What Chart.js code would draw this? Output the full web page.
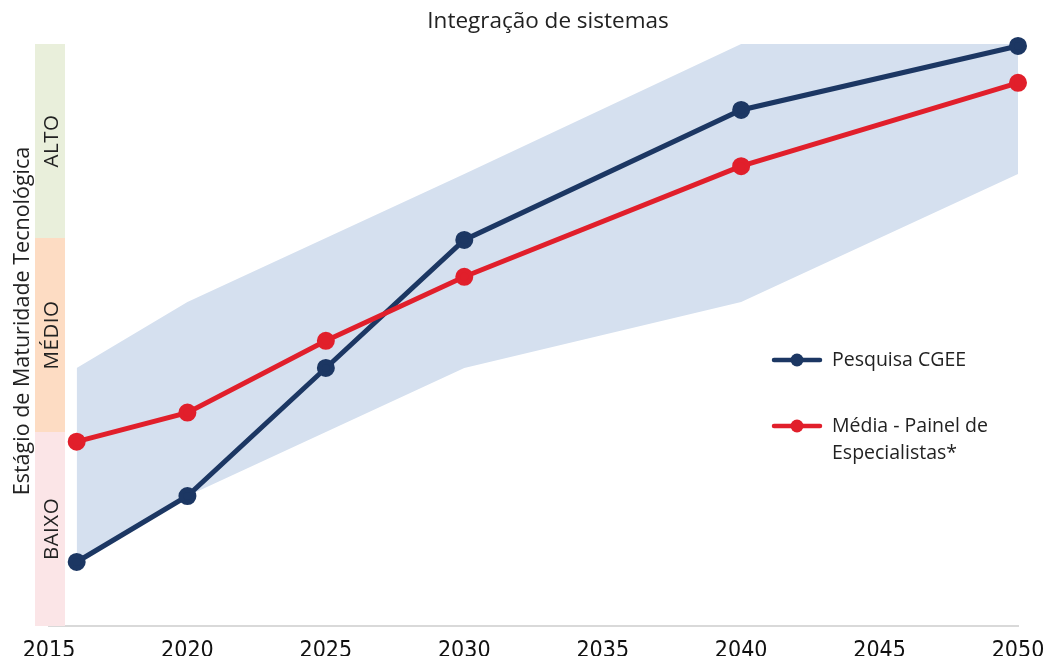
<!DOCTYPE html>
<html>
<head>
<meta charset="utf-8">
<script src="https://cdn.jsdelivr.net/npm/chart.js@4.4.1/dist/chart.umd.min.js"></script>
<style>
  body { margin: 0; background: #fff; }
  #wrap { position: relative; width: 1051px; height: 656px; }
</style>
</head>
<body>
<div id="wrap"><canvas id="grafico"></canvas></div>
<script>
const anos = [2016, 2020, 2025, 2030, 2040, 2050];
const pesquisaCGEE = [0.33, 0.67, 1.33, 1.99, 2.66, 2.99];
const mediaPainel = [0.95, 1.10, 1.47, 1.80, 2.37, 2.80];

const anosFaixa = [2016, 2020, 2030, 2040, 2050];
const faixaMin = [0.33, 0.67, 1.33, 1.67, 2.33];
const faixaMax = [1.33, 1.67, 2.33, 3.0, 3.0];

const ticksAno = [2015, 2020, 2025, 2030, 2035, 2040, 2045, 2050];

const estagios = ["BAIXO", "MÉDIO", "ALTO"];
const estagioCores = ["#fbe5e7", "#fddcc3", "#e9efdb"];

const AZUL = "#1c3763";
const VERMELHO = "#e11f2b";
const FONTE = "'Open Sans', 'Noto Sans', sans-serif";

function pares(xs, ys) {
  return xs.map((x, i) => ({ x: x, y: ys[i] }));
}

// titulo, faixas de maturidade e rotulo do eixo y
const faixasPlugin = {
  id: "faixas",
  beforeDatasetsDraw(chart) {
    const ctx = chart.ctx;
    const y = chart.scales.y;
    const x0 = chart.chartArea.left - 14;
    const largura = 30;
    ctx.save();
    ctx.fillStyle = "#222";
    ctx.font = "22.5px " + FONTE;
    ctx.textAlign = "center";
    ctx.textBaseline = "middle";
    ctx.fillText("Integração de sistemas", 548, 22);

    estagios.forEach((nome, i) => {
      const top = y.getPixelForValue(i + 1);
      const bot = y.getPixelForValue(i);
      ctx.fillStyle = estagioCores[i];
      ctx.fillRect(x0, top, largura, bot - top);
      ctx.save();
      ctx.translate(x0 + largura / 2 + 2, (top + bot) / 2);
      ctx.rotate(-Math.PI / 2);
      ctx.fillStyle = "#222";
      ctx.font = "20.5px " + FONTE;
      ctx.letterSpacing = "0.5px";
      ctx.textAlign = "center";
      ctx.textBaseline = "middle";
      ctx.fillText(nome, 0, 0);
      ctx.restore();
    });
    ctx.save();
    ctx.translate(23, 321);
    ctx.rotate(-Math.PI / 2);
    ctx.fillStyle = "#222";
    ctx.font = "21.5px " + FONTE;
    ctx.textAlign = "center";
    ctx.textBaseline = "middle";
    ctx.fillText("Estágio de Maturidade Tecnológica", 0, 0);
    ctx.restore();
    ctx.restore();
  }
};

// legenda dentro do grafico
const legendaPlugin = {
  id: "legenda",
  afterDraw(chart) {
    const ctx = chart.ctx;
    const itens = [
      { cor: AZUL, linhas: ["Pesquisa CGEE"], y: 360 },
      { cor: VERMELHO, linhas: ["Média - Painel de", "Especialistas*"], y: 426 }
    ];
    ctx.save();
    itens.forEach(it => {
      ctx.strokeStyle = it.cor;
      ctx.lineWidth = 4.5;
      ctx.lineCap = "round";
      ctx.beginPath();
      ctx.moveTo(774, it.y);
      ctx.lineTo(820, it.y);
      ctx.stroke();
      ctx.fillStyle = it.cor;
      ctx.beginPath();
      ctx.arc(797, it.y, 6.5, 0, Math.PI * 2);
      ctx.fill();
      ctx.fillStyle = "#222";
      ctx.font = "19.5px " + FONTE;
      ctx.textAlign = "left";
      ctx.textBaseline = "middle";
      it.linhas.forEach((t, k) => ctx.fillText(t, 832, it.y + k * 27));
    });
    ctx.restore();
  }
};

new Chart(document.getElementById("grafico"), {
  type: "line",
  data: {
    datasets: [
      {
        label: "Média - Painel de Especialistas*",
        data: pares(anos, mediaPainel),
        borderColor: VERMELHO,
        backgroundColor: VERMELHO,
        borderWidth: 5,
        pointRadius: 6.5,
        pointHoverRadius: 6.5,
        clip: false,
        tension: 0
      },
      {
        label: "Pesquisa CGEE",
        data: pares(anos, pesquisaCGEE),
        borderColor: AZUL,
        backgroundColor: AZUL,
        borderWidth: 5,
        pointRadius: 6.5,
        pointHoverRadius: 6.5,
        clip: false,
        tension: 0
      },
      {
        label: "min",
        data: pares(anosFaixa, faixaMin),
        borderWidth: 0,
        pointRadius: 0,
        fill: false
      },
      {
        label: "max",
        data: pares(anosFaixa, faixaMax),
        borderWidth: 0,
        pointRadius: 0,
        backgroundColor: "#d5e0ef",
        fill: "-1"
      }
    ]
  },
  options: {
    responsive: true,
    maintainAspectRatio: false,
    animation: false,
    layout: { padding: { left: 49, right: 33, top: 44, bottom: 0 } },
    plugins: {
      legend: { display: false },
      tooltip: { enabled: false }
    },
    scales: {
      x: {
        type: "linear",
        min: 2015,
        max: 2050,
        afterBuildTicks(axis) {
          axis.ticks = ticksAno.map(v => ({ value: v }));
        },
        afterFit(axis) {
          axis.height = 30;
        },
        grid: { display: false },
        border: { color: "#d9d9d9", width: 2 },
        ticks: {
          color: "#111",
          padding: 6,
          maxRotation: 0,
          autoSkip: false,
          font: { family: "'Liberation Sans Narrow', 'DejaVu Sans Condensed', sans-serif", size: 23, lineHeight: 1 },
          callback: v => String(v)
        }
      },
      y: {
        display: false,
        min: 0,
        max: 3
      }
    }
  },
  plugins: [faixasPlugin, legendaPlugin]
});
</script>
</body>
</html>
